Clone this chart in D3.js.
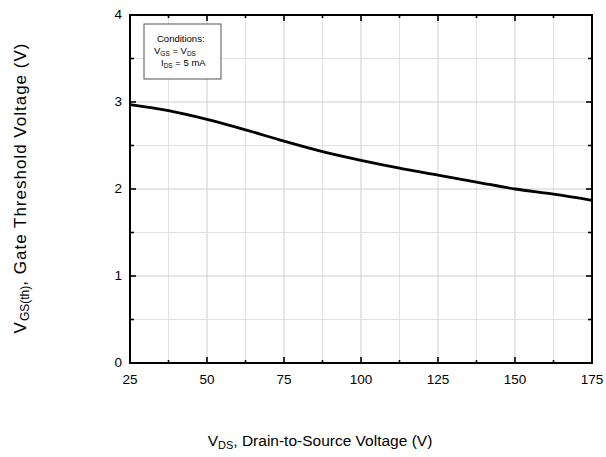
<!DOCTYPE html>
<html>
<head>
<meta charset="utf-8">
<script src="https://cdn.jsdelivr.net/npm/d3@7"></script>
<style>
  body { margin: 0; background: #fff; }
  text { font-family: Arial, "Liberation Sans", sans-serif; fill: #000; }
</style>
</head>
<body>
<svg id="chart" width="606" height="457"></svg>
<script>
// V_DS (V) vs gate threshold voltage (V)
var vds = [25, 37.5, 50, 62.5, 75, 87.5, 100, 112.5, 125, 137.5, 150, 162.5, 175];
var vth = [2.97, 2.90, 2.80, 2.68, 2.55, 2.43, 2.33, 2.24, 2.16, 2.08, 2.00, 1.94, 1.87];
var xTicks = [25, 50, 75, 100, 125, 150, 175];
var xMinor = [37.5, 62.5, 87.5, 112.5, 137.5, 162.5];
var yTicks = [0, 1, 2, 3, 4];
var yMinor = [0.5, 1.5, 2.5, 3.5];

var margin = {top: 15, right: 14, bottom: 94, left: 130},
    width = 606 - margin.left - margin.right,
    height = 457 - margin.top - margin.bottom;

var svg = d3.select("#chart");
var g = svg.append("g").attr("transform", "translate(" + margin.left + "," + margin.top + ")");

var x = d3.scaleLinear().domain([25, 175]).range([0, width]);
var y = d3.scaleLinear().domain([0, 4]).range([height, 0]);

// grid
g.selectAll(".gx").data(xTicks.concat(xMinor)).enter().append("line")
    .attr("x1", d => x(d)).attr("x2", d => x(d)).attr("y1", 0).attr("y2", height)
    .style("stroke", d => xTicks.indexOf(d) >= 0 ? "#cfcfcf" : "#e2e2e2").style("stroke-width", 1);
g.selectAll(".gy").data(yTicks.concat(yMinor)).enter().append("line")
    .attr("y1", d => y(d)).attr("y2", d => y(d)).attr("x1", 0).attr("x2", width)
    .style("stroke", d => yTicks.indexOf(d) >= 0 ? "#cfcfcf" : "#e2e2e2").style("stroke-width", 1);

// ticks, inward on all four sides
function tickSet(vals, len) {
  vals.forEach(function(v) {
    g.append("line").attr("x1", x(v)).attr("x2", x(v)).attr("y1", height).attr("y2", height - len)
      .style("stroke", "#000").style("stroke-width", 1.6);
    g.append("line").attr("x1", x(v)).attr("x2", x(v)).attr("y1", 0).attr("y2", len)
      .style("stroke", "#000").style("stroke-width", 1.6);
  });
}
tickSet(xTicks, 6);
tickSet(xMinor, 3);
function tickSetY(vals, len) {
  vals.forEach(function(v) {
    g.append("line").attr("y1", y(v)).attr("y2", y(v)).attr("x1", 0).attr("x2", len)
      .style("stroke", "#000").style("stroke-width", 1.6);
    g.append("line").attr("y1", y(v)).attr("y2", y(v)).attr("x1", width).attr("x2", width - len)
      .style("stroke", "#000").style("stroke-width", 1.6);
  });
}
tickSetY(yTicks, 6);
tickSetY(yMinor, 4);

// frame
g.append("rect").attr("width", width).attr("height", height)
    .style("fill", "none").style("stroke", "#000").style("stroke-width", 2);

// tick labels
g.selectAll(".xl").data(xTicks).enter().append("text")
    .attr("x", d => x(d)).attr("y", height + 21)
    .attr("text-anchor", "middle").style("font-size", "13.5px").text(d => d);
g.selectAll(".yl").data(yTicks).enter().append("text")
    .attr("x", -8).attr("y", d => y(d) + 4)
    .attr("text-anchor", "end").style("font-size", "13.5px").text(d => d);

// curve
var line = d3.line().x((d, i) => x(vds[i])).y(d => y(d)).curve(d3.curveMonotoneX);
g.append("path").datum(vth).attr("d", line)
    .style("fill", "none").style("stroke", "#000").style("stroke-width", 2.8);

// conditions box
var box = svg.append("g").attr("transform", "translate(144,24)");
box.append("rect").attr("width", 77).attr("height", 55)
    .style("fill", "#fff").style("stroke", "#555").style("stroke-width", 1);
box.append("text").attr("x", 13).attr("y", 18).style("font-size", "9.5px").text("Conditions:");
var b2 = box.append("text").attr("x", 10).attr("y", 30).style("font-size", "9.5px");
b2.append("tspan").text("V");
b2.append("tspan").attr("dy", 2).style("font-size", "6.5px").text("GS");
b2.append("tspan").attr("dy", -2).text(" =  V");
b2.append("tspan").attr("dy", 2).style("font-size", "6.5px").text("DS");
var b3 = box.append("text").attr("x", 17).attr("y", 42).style("font-size", "9.5px");
b3.append("tspan").text("I");
b3.append("tspan").attr("dy", 2).style("font-size", "6.5px").text("DS");
b3.append("tspan").attr("dy", -2).text(" = 5 mA");

// axis titles
var xt = svg.append("text").attr("x", 320).attr("y", 446).attr("text-anchor", "middle").style("font-size", "15.5px");
xt.append("tspan").text("V");
xt.append("tspan").attr("dy", 3).style("font-size", "11px").text("DS");
xt.append("tspan").attr("dy", -3).text(", Drain-to-Source Voltage (V)");

var yt = svg.append("text").attr("transform", "translate(26,188) rotate(-90)")
    .attr("text-anchor", "middle").style("font-size", "17px").style("letter-spacing", "1px");
yt.append("tspan").text("V");
yt.append("tspan").attr("dy", 3).style("font-size", "12px").style("letter-spacing", "0px").text("GS(th)");
yt.append("tspan").attr("dy", -3).text(",  Gate  Threshold  Voltage  (V)");
</script>
</body>
</html>
